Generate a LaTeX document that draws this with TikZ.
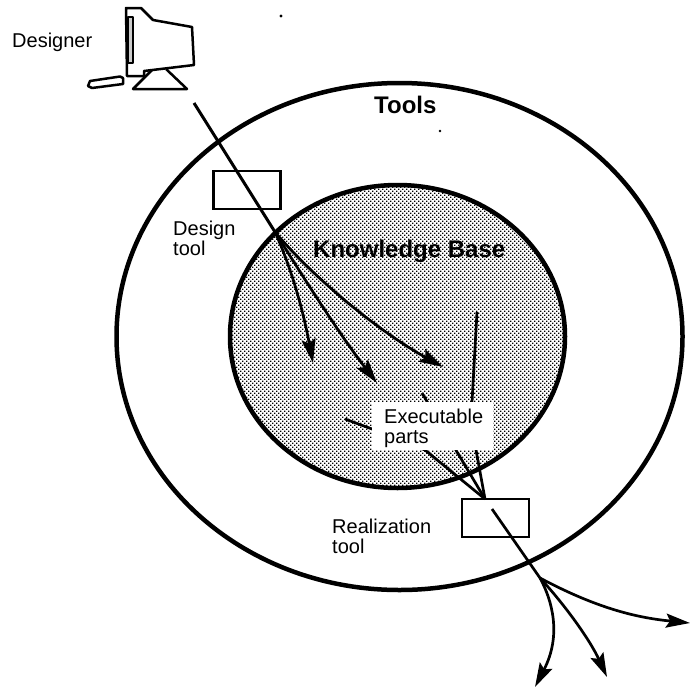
\documentclass[tikz,border=0pt]{standalone}
\usepackage{fontspec}
\setmainfont{Liberation Sans}
\usetikzlibrary{arrows.meta,patterns,shapes.geometric}
\pgfdeclarepatternformonly{stipple}{\pgfqpoint{-0.5pt}{-0.5pt}}{\pgfqpoint{4.5pt}{4.5pt}}{\pgfqpoint{4pt}{4pt}}{%
  \pgfpathrectangle{\pgfqpoint{0pt}{0pt}}{\pgfqpoint{1.4pt}{1.4pt}}%
  \pgfpathrectangle{\pgfqpoint{2pt}{2pt}}{\pgfqpoint{1.4pt}{1.4pt}}%
  \pgfusepath{fill}}
\tikzset{
  ring/.style={ellipse,draw=black,line width=4.5pt,inner sep=0pt},
  toolbox/.style={draw=black,line width=2.6pt,fill=white,minimum width=67pt,minimum height=38pt,inner sep=0pt},
  lbl/.style={font=\fontsize{20}{20}\selectfont,align=left,inner sep=0pt,anchor=north west},
  biglbl/.style={font=\fontsize{24}{26}\selectfont\bfseries,inner sep=0pt,anchor=base west},
  flow/.style={draw=black,line width=2.7pt,line join=round},
  flowarrow/.style={flow,-{Stealth[length=24pt,width=14pt,inset=4pt]}},
  icon/.style={draw=black,line width=2.5pt,line join=round},
}
\begin{document}
\begin{tikzpicture}[x=1pt,y=-1pt]
\useasboundingbox (0,0) rectangle (690,688);
% circles
\node[ring,minimum width=566pt,minimum height=507pt] (tools) at (399.5,336.5) {};
\node[ring,minimum width=335pt,minimum height=303pt,pattern=stipple] (kb) at (397.5,336.5) {};
% labels on the circles
\node[biglbl] (toolstext) at (374,113) {Tools};
\node[biglbl] (kbtext) at (313,257) {Knowledge Base};
% tool boxes
\node[toolbox] (design) at (247,190) {};
\node[toolbox] (real) at (495.5,518) {};
% coordinates
\coordinate (start) at (194,103);
\coordinate (split) at (275,232);
\coordinate (a1) at (313,363);
\coordinate (a2) at (377,383);
\coordinate (a3) at (443,367);
\coordinate (s1) at (477,312);
\coordinate (s1a) at (472,402);
\coordinate (s1b) at (476,450);
\coordinate (s2) at (422,393);
\coordinate (s3) at (345,419);
\coordinate (s3a) at (372,429);
\coordinate (s3b) at (425,450);
\coordinate (conv) at (485,499);
\coordinate (out0) at (492,509);
\coordinate (out1) at (540,578);
\coordinate (o1) at (535,687);
\coordinate (o2) at (607,677);
\coordinate (o3) at (690,623);
% design flow
\draw[flow,line width=3pt] (start) -- (split);
\draw[flowarrow] (split) .. controls (290,265) and (302,305) .. (a1);
\draw[flowarrow] (split) .. controls (305,280) and (340,335) .. (a2);
\draw[flowarrow] (split) .. controls (320,285) and (385,335) .. (a3);
% realization flow
\draw[flow] (s1) -- (s1a) -- (s1b) -- (conv);
\draw[flow] (s2) -- (conv);
\draw[flow] (s3) -- (s3a) -- (s3b) -- (conv);
\draw[flow] (out0) -- (out1);
\draw[flowarrow] (out1) .. controls (552,600) and (562,635) .. (o1);
\draw[flowarrow] (out1) .. controls (565,605) and (590,640) .. (o2);
\draw[flowarrow] (out1) .. controls (600,610) and (640,618) .. (o3);
% white label
\node[fill=white,inner sep=0pt,minimum width=121pt,minimum height=48pt] (execbox) at (432.5,426) {};
\node[lbl] (exec) at (384,409) {Executable\\parts};
% text
\node[lbl] (designer) at (12,33) {Designer};
\node[lbl] (designtext) at (173,221) {Design\\tool};
\node[lbl] (realtext) at (332,519) {Realization\\tool};
% monitor
\draw[icon] (126,8) -- (141,8) -- (153,20) -- (192,27) -- (194,65) -- (144,71) -- (144,76) -- (127,76) -- cycle;
\draw[icon,line width=2pt,fill=gray!40] (127.5,17) rectangle (133,63);
\draw[icon] (152,70) -- (133,89) -- (187,89) -- (166,69);
\draw[icon] (90,81) -- (120,76.5) -- (123,78) -- (123,84) -- (92,88) -- (88,86) -- cycle;
% specks
\fill (281,16) circle (1.6pt);
\fill (440,131) circle (1.3pt);
\end{tikzpicture}
\end{document}
